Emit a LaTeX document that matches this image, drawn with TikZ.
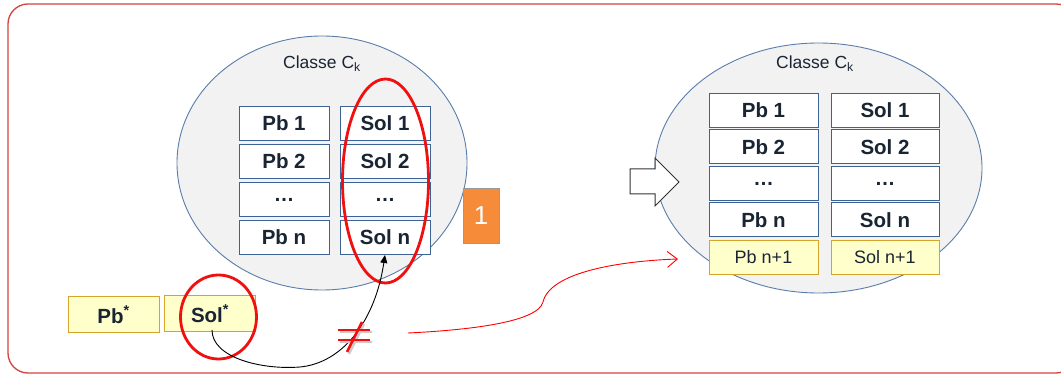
\documentclass[tikz,border=0pt]{standalone}
\usepackage{fontspec}
\setmainfont{Liberation Sans}
\usetikzlibrary{arrows.meta,shapes.geometric}
\definecolor{framered}{HTML}{D0453F}
\definecolor{ellborder}{HTML}{5A7DAA}
\definecolor{ellfill}{HTML}{F2F2F2}
\definecolor{boxblue}{HTML}{3C6296}
\definecolor{txt}{HTML}{1A2533}
\definecolor{yelfill}{HTML}{FFFFCC}
\definecolor{yelborder}{HTML}{D4A52A}
\definecolor{orangefill}{HTML}{F68B3A}
\definecolor{hlred}{HTML}{F01010}
\tikzset{
  classell/.style={draw=ellborder, line width=0.9pt, fill=ellfill, ellipse, inner sep=0pt},
  cell/.style={draw=boxblue, line width=1pt, fill=white, minimum height=34pt, inner sep=0pt,
    font=\fontsize{20.5}{20.5}\selectfont\bfseries, text=txt},
  newcell/.style={draw=yelborder, line width=1pt, fill=yelfill, minimum height=34pt, inner sep=0pt,
    font=\fontsize{18}{18}\selectfont, text=txt},
  starcell/.style={draw=yelborder, line width=1pt, fill=yelfill, minimum width=91pt, minimum height=35pt, inner sep=0pt,
    font=\fontsize{20.5}{20.5}\selectfont\bfseries, text=txt},
  title/.style={font=\fontsize{17.5}{17.5}\selectfont, text=txt},
  hlring/.style={draw=hlred, line width=2.8pt, ellipse, inner sep=0pt},
}
\begin{document}
\begin{tikzpicture}[x=1pt,y=-1pt]
\useasboundingbox (0,0) rectangle (1061,374);
\clip (0,0) rectangle (1061,374);
\fill[white] (0,0) rectangle (1061,374);
% frame
\draw[framered, line width=1.3pt, rounded corners=20pt] (8,4) rectangle (1076,373);

% left class
\node[classell, minimum width=290pt, minimum height=254pt] (cl) at (322,163) {};
\node[title] (tl) at (322,64) {Classe C\textsubscript{k}};
\node[cell, minimum width=90pt] (p1) at (284,123.5) {Pb 1};
\node[cell, minimum width=90pt] (p2) at (284,161.5) {Pb 2};
\node[cell, minimum width=90pt] (p3) at (284,199.5) {\dots};
\node[cell, minimum width=90pt] (pn) at (284,237.5) {Pb n};
\node[cell, minimum width=90pt] (s1) at (385,123.5) {Sol 1};
\node[cell, minimum width=90pt] (s2) at (385,161.5) {Sol 2};
\node[cell, minimum width=90pt] (s3) at (385,199.5) {\dots};
\node[cell, minimum width=90pt] (sn) at (385,237.5) {Sol n};
\node[hlring, minimum width=86pt, minimum height=204pt] (ring1) at (385.5,181) {};

% orange label
\node[draw=gray!80, line width=0.8pt, fill=orangefill, minimum width=36pt, minimum height=55pt, inner sep=0pt,
  text=white, font=\fontsize{26}{26}\selectfont] (one) at (481,215.5) {1};

% star boxes
\node[starcell] (pstar) at (113.5,314.5) {Pb\textsuperscript{*}};
\node[starcell] (sstar) at (210,313.5) {Sol\textsuperscript{*}};
\node[hlring, minimum width=76pt, minimum height=84pt] (ring2) at (218.5,317) {};

% black arrow
\coordinate (bstart) at (212,330);
\draw[black, line width=0.9pt, -{Triangle[length=8pt,width=7pt]}]
  (bstart) .. controls (212,358) and (262,370) .. (300,367)
  .. controls (342,363) and (375,322) .. (sn.south);

% not-equal sign
\begin{scope}[hlred, line width=2.6pt]
  \draw[gray!40, line width=2.4pt] (340,332) -- (372,332) (340,342) -- (372,342) (349,354) -- (364,324);
  \draw (338,330) -- (370,330);
  \draw (338,340) -- (370,340);
  \draw (347,352) -- (362,322);
\end{scope}

% red thin arrow
\coordinate (rstart) at (408,333);
\coordinate (rend) at (678,259);
\draw[red, line width=0.9pt, -{Straight Barb[length=10pt,width=16pt]}]
  (rstart) .. controls (470,330) and (538,322) .. (543,302)
  .. controls (550,272) and (620,261) .. (rend);

% right class
\node[classell, minimum width=327pt, minimum height=250pt] (cr) at (818.5,168) {};
\node[title] (tr) at (815,64) {Classe C\textsubscript{k}};
\node[cell, minimum width=109pt] (q1) at (763.5,110.5) {Pb 1};
\node[cell, minimum width=109pt] (q2) at (763.5,147) {Pb 2};
\node[cell, minimum width=109pt] (q3) at (763.5,183.5) {\dots};
\node[cell, minimum width=109pt] (qn) at (763.5,220) {Pb n};
\node[newcell, minimum width=109pt] (qm) at (763.5,257.5) {Pb n+1};
\node[cell, minimum width=108pt] (t1) at (885,110.5) {Sol 1};
\node[cell, minimum width=108pt] (t2) at (885,147) {Sol 2};
\node[cell, minimum width=108pt] (t3) at (885,183.5) {\dots};
\node[cell, minimum width=108pt] (tn) at (885,220) {Sol n};
\node[newcell, minimum width=108pt] (tm) at (885,257.5) {Sol n+1};

% white block arrow
\draw[black!80, line width=1pt, fill=white]
  (630,169) -- (655,169) -- (655,158) -- (679,182) -- (655,206) -- (655,194) -- (630,194) -- cycle;
\end{tikzpicture}
\end{document}
